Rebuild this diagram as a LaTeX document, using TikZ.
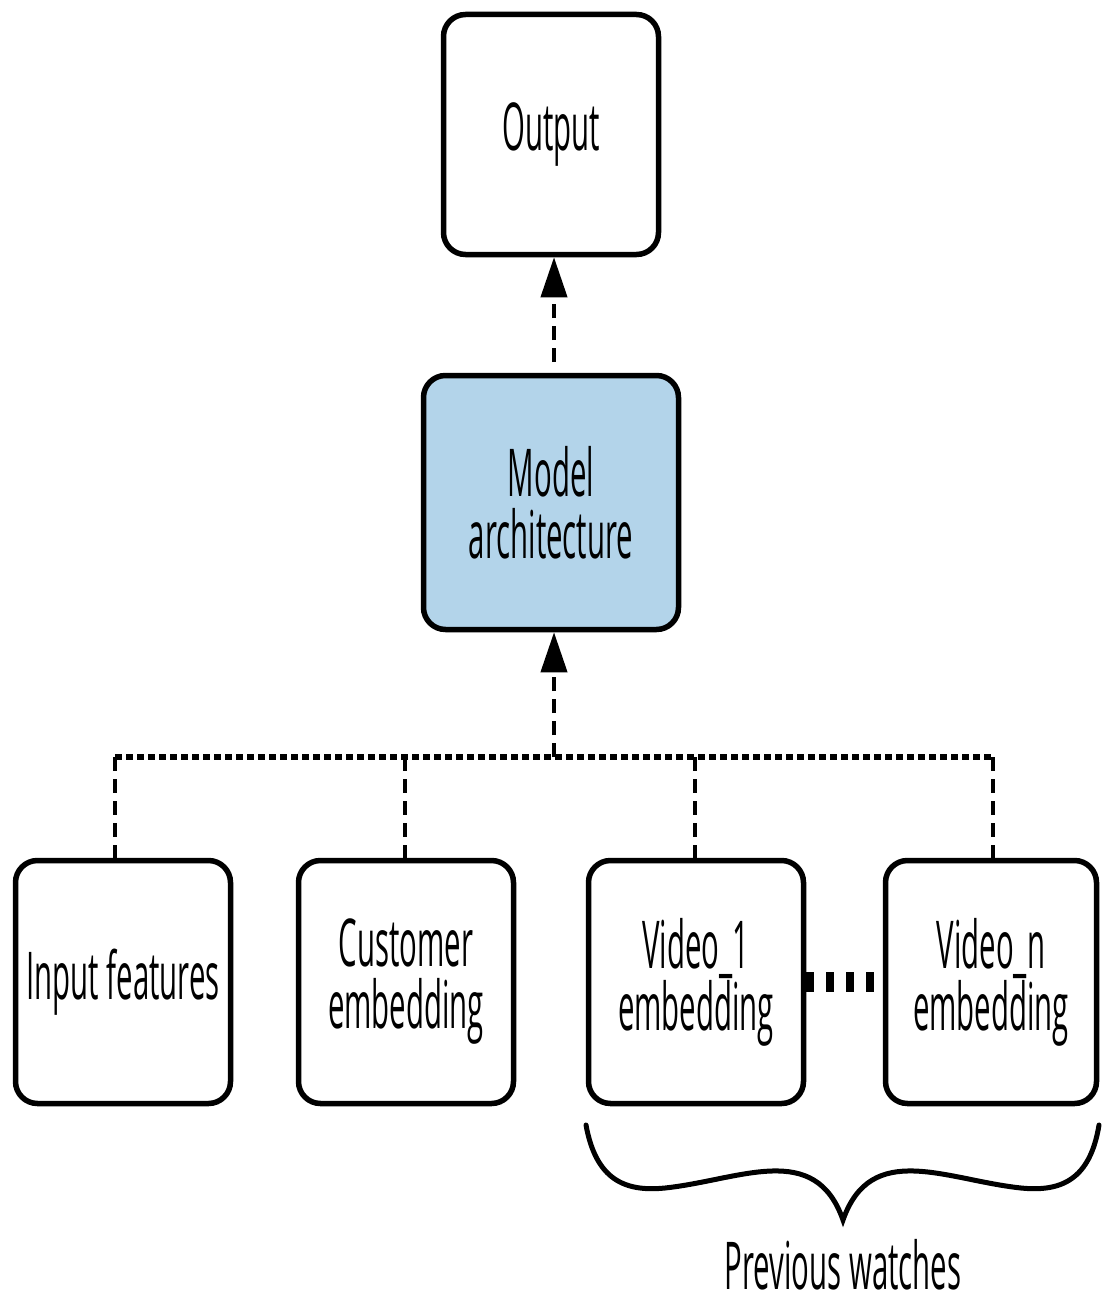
\documentclass[tikz,border=0pt]{standalone}
\usepackage{fontspec}
\setmainfont{Open Sans}[FakeStretch=0.445]
\usetikzlibrary{arrows.meta,calc}
\definecolor{modelblue}{RGB}{179,212,234}
\begin{document}
\begin{tikzpicture}[x=1pt,y=-1pt,
  box/.style={draw=black,line width=5.5pt,rounded corners=22pt,fill=white,
    align=center,inner sep=0pt,
    font=\fontsize{66}{62}\selectfont},
  conn/.style={line width=4pt,dash pattern=on 14pt off 8pt},
  arr/.style={conn,-{Triangle[length=40pt,width=26pt]}},
  busline/.style={line width=6pt,dash pattern=on 7pt off 4pt},
  dotsline/.style={line width=20pt,dash pattern=on 8pt off 12pt},
  bracestyle/.style={line width=5pt,line cap=round}
]
\useasboundingbox (0,0) rectangle (1101,1300);
\node[box,minimum width=215pt,minimum height=240pt] (out) at (551,134.5) {Output};
\node[box,fill=modelblue,minimum width=255pt,minimum height=254pt] (model) at (551,502.5) {Model\\architecture};
\node[box,minimum width=215pt,minimum height=243pt] (inp) at (123,982) {Input features};
\node[box,minimum width=215pt,minimum height=243pt] (cust) at (406,982) {Customer\\embedding};
\node[box,minimum width=215pt,minimum height=243pt] (v1) at (696,982) {Video\_1\\embedding};
\node[box,minimum width=211pt,minimum height=243pt] (vn) at (991,982) {Video\_n\\embedding};

\coordinate (bus) at (554,757);
\coordinate (busL) at (115,757);
\coordinate (busR) at (993,757);
\coordinate (armstart) at (554,362);

\draw[arr] (armstart) -- (out.south -| bus);
\draw[arr] (bus) -- (model.south -| bus);
\draw[busline] (busL) -- (busR);
\draw[conn] (busL) -- (inp.north -| busL);
\draw[conn] (405,757) -- (cust.north -| 405,0);
\draw[conn] (695,757) -- (v1.north -| 695,0);
\draw[conn] (busR) -- (vn.north -| busR);
\draw[dotsline] (v1.east) -- (vn.west);

\coordinate (brL) at (586,1125);
\coordinate (brR) at (1099,1125);
\coordinate (brT) at (843,1220);
\draw[bracestyle] (brL) .. controls (596,1180) and (625,1192) .. (665,1188)
  .. controls (740,1180) and (815,1140) .. (brT)
  .. controls (871,1140) and (946,1180) .. (1021,1188)
  .. controls (1061,1192) and (1090,1180) .. (brR);
\node[font=\fontsize{66}{62}\selectfont,inner sep=0pt] (prev) at (843,1265) {Previous watches};
\end{tikzpicture}
\end{document}
